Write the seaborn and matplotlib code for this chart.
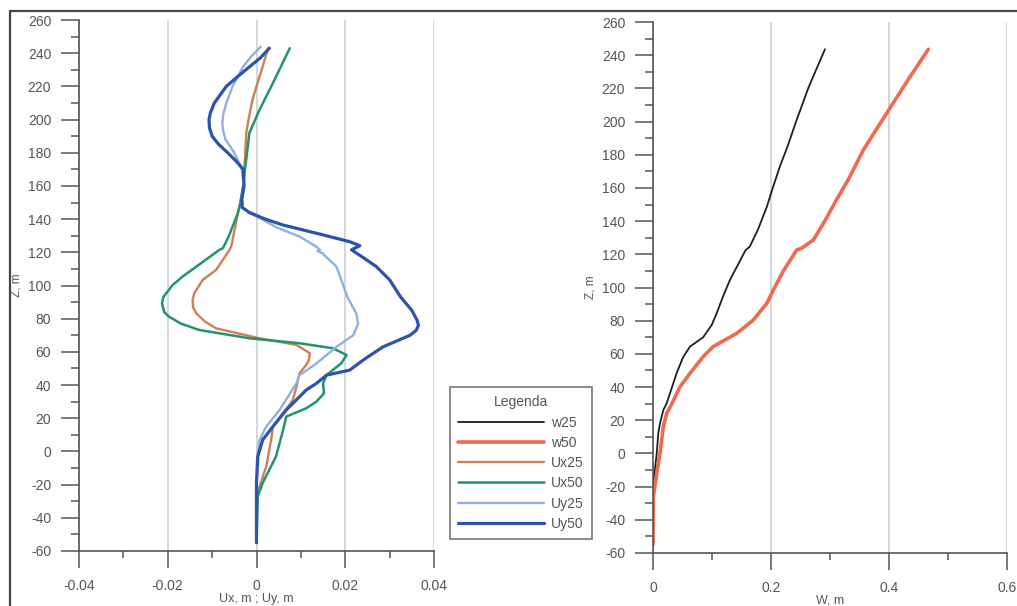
import pandas as pd
import matplotlib.pyplot as plt
import seaborn as sns
from matplotlib.ticker import MultipleLocator, FuncFormatter
from matplotlib.patches import Rectangle

sns.set_style("ticks")
plt.rcParams['font.family'] = ['Liberation Sans', 'DejaVu Sans']
plt.rcParams['lines.solid_joinstyle'] = 'round'

# ----------------------------
# Data
# ----------------------------
z_uy50 = [243, 237, 232, 226, 220, 210, 204, 200, 195, 190, 185, 180, 175, 170, 160, 152,
          147, 144, 140, 136.5, 131.5, 126.4, 124, 121.5, 116, 111.4, 103.4, 93, 85, 79,
          76, 73, 70, 63, 55, 49, 46, 41, 37, 25, 15, 7, -3, -19, -55]
uy50 = [0.0029, 0.0008, -0.0015, -0.0042, -0.0068, -0.0095, -0.0104, -0.0107, -0.0106,
        -0.0100, -0.0085, -0.0065, -0.0046, -0.0030, -0.0028, -0.0033, -0.0032, -0.0016,
        0.0020, 0.0059, 0.0135, 0.0210, 0.0233, 0.0214, 0.0245, 0.0270, 0.0300, 0.0325,
        0.0350, 0.0362, 0.0365, 0.0360, 0.0346, 0.0285, 0.0240, 0.0210, 0.0158, 0.0135,
        0.0112, 0.0067, 0.0037, 0.0014, 0.0003, 0.0, 0.0]

z_uy25 = [244, 238, 232, 220, 210, 203, 198, 193, 188, 180, 170, 160, 152, 147, 144, 140,
          135, 129.5, 123.4, 121.5, 120.8, 119.5, 111.4, 103.4, 93, 83, 77, 70, 63, 53, 46,
          41, 25, 15, 7, -5, -55]
uy25 = [0.0010, -0.0012, -0.0030, -0.0054, -0.0068, -0.0075, -0.0077, -0.0075, -0.0070,
        -0.0050, -0.0033, -0.0029, -0.0033, -0.0032, -0.0018, 0.0012, 0.0045, 0.0097,
        0.0135, 0.0143, 0.0137, 0.0148, 0.0180, 0.0191, 0.0205, 0.0225, 0.0229, 0.0218,
        0.0180, 0.0135, 0.0097, 0.0090, 0.0052, 0.0022, 0.0007, 0.0001, 0.0]

z_ux25 = [243, 232, 220, 212, 200, 192, 172, 160, 148, 143.6, 130, 123.4, 121.4, 109.4,
          103.4, 95.5, 91.3, 87, 83.3, 78, 74.2, 68.2, 64.2, 59.2, 55, 52.1, 47.1, 39, 31,
          23, 15, 7, -9, -21, -29, -55]
ux25 = [0.0026, 0.0014, 0.0000, -0.0009, -0.0018, -0.0023, -0.0027, -0.0030, -0.0038,
        -0.0042, -0.0052, -0.0057, -0.0061, -0.0091, -0.0121, -0.0140, -0.0144, -0.0143,
        -0.0136, -0.0115, -0.0091, 0.0007, 0.0090, 0.0120, 0.0118, 0.0112, 0.0097, 0.0090,
        0.0082, 0.0060, 0.0037, 0.0033, 0.0022, 0.0007, 0.0, 0.0]

z_ux50 = [243, 222, 206, 192, 172, 160, 150, 143.6, 130, 124.4, 122.5, 121.4, 105.3, 100,
          93, 89.3, 84, 81.2, 77, 73.2, 68.2, 65.2, 62.2, 58.1, 53.1, 46.1, 41.1, 35, 30,
          26, 21, 13, -3, -19, -27, -55]
ux50 = [0.0075, 0.0037, 0.0007, -0.0016, -0.0025, -0.0030, -0.0036, -0.0042, -0.0062,
        -0.0072, -0.0076, -0.0084, -0.0167, -0.0190, -0.0210, -0.0213, -0.0208, -0.0197,
        -0.0170, -0.0129, -0.0016, 0.0097, 0.0172, 0.0203, 0.0191, 0.0158, 0.0150, 0.0152,
        0.0135, 0.0112, 0.0067, 0.0060, 0.0044, 0.0014, 0.0003, 0.0]

z_w25 = [243.6, 230, 220, 201, 185, 172.9, 160, 148.7, 135, 124.6, 122.6, 104.6, 94,
         84.5, 77.4, 70, 64.4, 58, 48.3, 30.2, 26.2, 18.2, 12.2, 0, -18, -20, -55]
w25 = [0.2915, 0.275, 0.263, 0.2435, 0.228, 0.215, 0.203, 0.193, 0.178, 0.164, 0.157,
       0.1305, 0.118, 0.108, 0.0995, 0.085, 0.0627, 0.051, 0.040, 0.0232, 0.0175, 0.0119,
       0.009, 0.0063, 0.0006, 0.0, 0.0]

z_w50 = [243.6, 225, 205, 182.9, 165, 152.8, 140, 128.7, 123.7, 122.6, 110, 98.5, 90.5,
         80.4, 72.4, 64.4, 58.3, 48.3, 40.2, 30, 24.2, 16.1, 0.1, -12, -26, -55]
w50 = [0.4667, 0.432, 0.396, 0.3565, 0.331, 0.311, 0.291, 0.272, 0.252, 0.2435, 0.221,
       0.204, 0.193, 0.170, 0.142, 0.102, 0.085, 0.0627, 0.0458, 0.032, 0.0232, 0.0175,
       0.0119, 0.0063, 0.0006, 0.0]

# ----------------------------
# Figure
# ----------------------------
W, H = 1017, 606
fig = plt.figure(figsize=(W / 100, H / 100), dpi=100)
ax1 = fig.add_axes([79 / W, 55 / H, 355 / W, 531 / H])
ax2 = fig.add_axes([653 / W, 53 / H, 354 / W, 531 / H])

grey = "#555555"
fmt = FuncFormatter(lambda v, p: f"{v:g}")

for ax in (ax1, ax2):
    sns.despine(ax=ax)
    for s in ("left", "bottom"):
        ax.spines[s].set_color(grey)
        ax.spines[s].set_linewidth(1.2)
    ax.set_ylim(-60, 260)
    ax.yaxis.set_major_locator(MultipleLocator(20))
    ax.yaxis.set_minor_locator(MultipleLocator(10))
    ax.yaxis.set_major_formatter(fmt)
    ax.xaxis.set_major_formatter(fmt)
    ax.tick_params(axis="y", which="major", direction="out", length=13, width=1.1,
                   color=grey, labelsize=10, labelcolor=grey, pad=7)
    ax.tick_params(axis="y", which="minor", direction="out", length=6, width=1.1, color=grey)
    ax.tick_params(axis="x", which="major", direction="out", length=12, width=1.1,
                   color=grey, labelsize=10, labelcolor=grey, pad=8)
    ax.tick_params(axis="x", which="minor", direction="out", length=5, width=1.1, color=grey)
    ax.grid(axis="x", which="major", color="#c9cbd2", lw=1.1)
    ax.set_ylabel("Z, m", fontsize=8.5, color=grey, labelpad=4)

ax1.set_xlim(-0.04, 0.04)
ax1.xaxis.set_major_locator(MultipleLocator(0.02))
ax1.xaxis.set_minor_locator(MultipleLocator(0.01))
ax1.set_xlabel("Ux, m ; Uy, m", fontsize=9, color=grey, labelpad=0)

ax2.set_xlim(0, 0.6)
ax2.xaxis.set_major_locator(MultipleLocator(0.2))
ax2.xaxis.set_minor_locator(MultipleLocator(0.1))
ax2.set_xlabel("W, m", fontsize=9, color=grey, labelpad=0)

# ----------------------------
# Curves
# ----------------------------
sns.lineplot(x=w25, y=z_w25, sort=False, estimator=None, ax=ax2, color="#1e1e1e",
             lw=1.3, label="w25", legend=False)
sns.lineplot(x=w50, y=z_w50, sort=False, estimator=None, ax=ax2, color="#ee6a50",
             lw=2.6, label="w50", legend=False)

sns.lineplot(x=ux25, y=z_ux25, sort=False, estimator=None, ax=ax1, color="#cf7f55",
             lw=1.7, label="Ux25", legend=False)
sns.lineplot(x=ux50, y=z_ux50, sort=False, estimator=None, ax=ax1, color="#22946a",
             lw=1.8, label="Ux50", legend=False)
sns.lineplot(x=uy25, y=z_uy25, sort=False, estimator=None, ax=ax1, color="#8fb0e0",
             lw=1.7, label="Uy25", legend=False)
sns.lineplot(x=uy50, y=z_uy50, sort=False, estimator=None, ax=ax1, color="#2b54ad",
             lw=2.3, label="Uy50", legend=False)

handles = ax2.get_lines() + ax1.get_lines()
labels = [h.get_label() for h in handles]
leg = fig.legend(handles, labels, title="Legenda", loc="upper left",
                 bbox_to_anchor=(443 / W, 1 - 380 / H), frameon=True, fancybox=False,
                 edgecolor=grey, fontsize=10, title_fontsize=10, handlelength=6.2,
                 handletextpad=0.5, labelspacing=0.45, borderpad=0.6)
leg.get_frame().set_linewidth(1.2)
for t in leg.get_texts():
    t.set_color(grey)
leg.get_title().set_color(grey)

# outer frame of the picture (top and left edges visible)
fig.add_artist(Rectangle((10 / W, -0.2), 1.2, 1.2 - 11 / H, transform=fig.transFigure,
                         fill=False, ec="#444444", lw=1.6))

fig.savefig("out.png", dpi=100)
